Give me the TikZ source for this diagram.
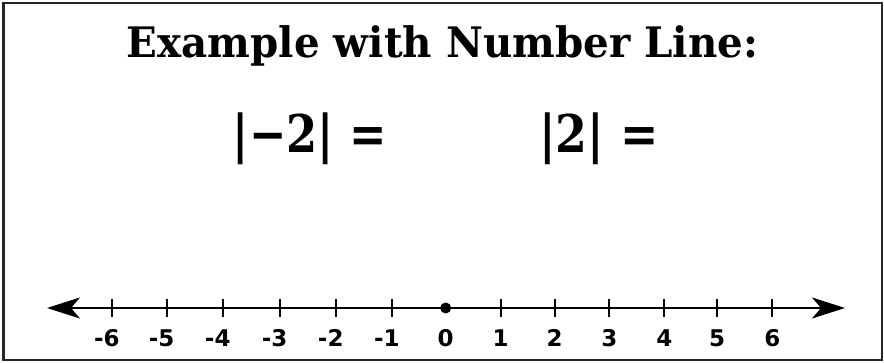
\documentclass[tikz,border=0pt]{standalone}
\usepackage{fontspec}
\usetikzlibrary{arrows.meta}
\newfontfamily\titlefont{DejaVu Serif}
\newfontfamily\labelfont{DejaVu Sans}
\tikzset{
  frame/.style={draw=black!85, line width=2.2pt},
  axis/.style={line width=2.2pt, {Stealth[length=33pt,width=21pt,inset=9pt]}-{Stealth[length=33pt,width=21pt,inset=9pt]}},
  tick/.style={line width=2pt},
  numlabel/.style={anchor=base, inner sep=0pt, font=\labelfont\bfseries\fontsize{23}{27}\selectfont},
  titletext/.style={anchor=base, inner sep=0pt, font=\titlefont\bfseries\fontsize{40}{48}\selectfont},
  mathtext/.style={anchor=base, inner sep=0pt, font=\titlefont\bfseries\fontsize{52}{60}\selectfont},
}
\begin{document}
\begin{tikzpicture}[x=1pt,y=-1pt]
\useasboundingbox (0,0) rectangle (884,363);
\fill[white] (0,0) rectangle (884,363);
\draw[frame] (3.5,3) rectangle (882,360);
\node[titletext] (title) at (442.5,58) {\scalebox{1.01}[1.05]{Example with Number Line:}};
\node[mathtext] (absneg) at (310,153) {\scalebox{0.86}[1]{|−2| =}};
\node[mathtext] (abspos) at (599,153) {\scalebox{0.88}[1]{|2| =}};
\coordinate (left) at (47,308);
\coordinate (right) at (845,308);
\draw[axis] (left) -- (right);
\foreach \v/\x in {-6/111.7,-5/166.5,-4/222.5,-3/279.5,-2/335.5,-1/391.7,1/500.7,2/554.5,3/609.3,4/664.3,5/717,6/772.3}{
  \coordinate (t\v) at (\x,308);
  \draw[tick] ([yshift=-9pt]t\v) -- ([yshift=9pt]t\v);
}
\foreach \v in {1,...,6}{
  \node[numlabel] (l\v) at ([yshift=-39pt]t\v) {\v};
  \node[numlabel] (lm\v) at ([yshift=-39pt]t-\v) {\makebox[0pt][r]{-}\v};
}
\node[circle, fill=black, inner sep=0pt, minimum size=11pt] (zero) at (445.7,308) {};
\node[numlabel] (l0) at ([yshift=-39pt]zero.center) {0};
\end{tikzpicture}
\end{document}
